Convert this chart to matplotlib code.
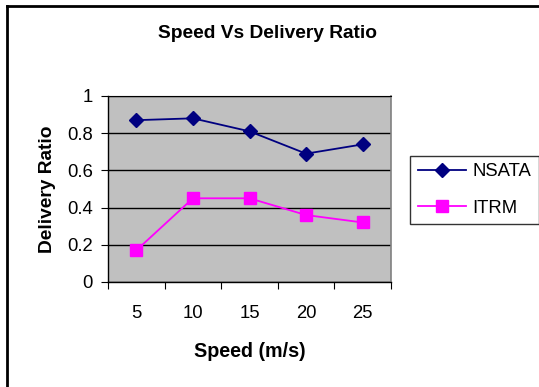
import matplotlib
matplotlib.use("Agg")
import matplotlib.pyplot as plt
from matplotlib.lines import Line2D

plt.rcParams['font.family'] = ['Liberation Sans', 'DejaVu Sans']

speeds = ["5", "10", "15", "20", "25"]
nsata = [0.87, 0.88, 0.81, 0.69, 0.74]
itrm = [0.17, 0.45, 0.45, 0.36, 0.32]
yticks = [0, 0.2, 0.4, 0.6, 0.8, 1.0]
ytick_labels = ["0", "0.2", "0.4", "0.6", "0.8", "1"]

W, H = 539, 387
fig = plt.figure(figsize=(W / 100, H / 100), dpi=100)

def fx(px):
    return px / W

def fy(py):
    return 1 - py / H

FS = 13.3
LFS = 14.2

left, right, top, bottom = 108, 391, 96, 282
ax = fig.add_axes([fx(left), fy(bottom), (right - left) / W, (bottom - top) / H])
ax.set_facecolor("#C0C0C0")

x = list(range(len(speeds)))
ax.plot(x, nsata, color="#000080", marker="D", markersize=7.5, linewidth=1.3,
        label="NSATA", zorder=3)
ax.plot(x, itrm, color="#FF00FF", marker="s", markersize=8, linewidth=1.3,
        label="ITRM", zorder=3)

ax.set_xlim(-0.5, len(speeds) - 0.5)
ax.set_ylim(0, 1)

ax.set_yticks(yticks)
ax.set_yticklabels(ytick_labels, fontsize=FS)
ax.yaxis.grid(True, color="black", linewidth=1)
ax.set_axisbelow(True)

ax.set_xticks([i - 0.5 for i in range(len(speeds) + 1)])
ax.set_xticklabels([""] * (len(speeds) + 1))
ax.set_xticks(x, minor=True)
ax.set_xticklabels(speeds, minor=True, fontsize=FS)
ax.tick_params(axis="x", which="minor", length=0, pad=16.5)
ax.tick_params(axis="x", which="major", length=5, direction="out", color="black")
ax.tick_params(axis="y", length=5, direction="out", pad=6)

for s in ["left", "bottom"]:
    ax.spines[s].set_color("black")
    ax.spines[s].set_linewidth(1)
ax.spines["top"].set_color("black")
ax.spines["right"].set_color("#808080")
ax.spines["right"].set_linewidth(1.2)

ax.set_xlabel("Speed (m/s)", fontsize=LFS, fontweight="bold", labelpad=14.5)
ax.set_ylabel("Delivery Ratio", fontsize=13.8, fontweight="bold", labelpad=8)

fig.text(fx(268), fy(33), "Speed Vs Delivery Ratio", fontsize=13.8, fontweight="bold",
         ha="center", va="center")

leg = ax.legend(loc="center", bbox_to_anchor=(fx((411 + 538) / 2), fy(190)),
                bbox_transform=fig.transFigure, fontsize=FS, frameon=True,
                fancybox=False, edgecolor="black", handlelength=2.6,
                labelspacing=1.05, borderpad=0.42, handletextpad=0.35,
                borderaxespad=0)
leg.get_frame().set_linewidth(1)

# outer chart border (top and left visible)
fig.add_artist(Line2D([fx(7), fx(7)], [fy(5.5), 0], transform=fig.transFigure,
                      color="black", linewidth=2))
fig.add_artist(Line2D([fx(7), 1], [fy(5.5), fy(5.5)], transform=fig.transFigure,
                      color="black", linewidth=2))

fig.savefig("out.png", dpi=100, facecolor="white")
